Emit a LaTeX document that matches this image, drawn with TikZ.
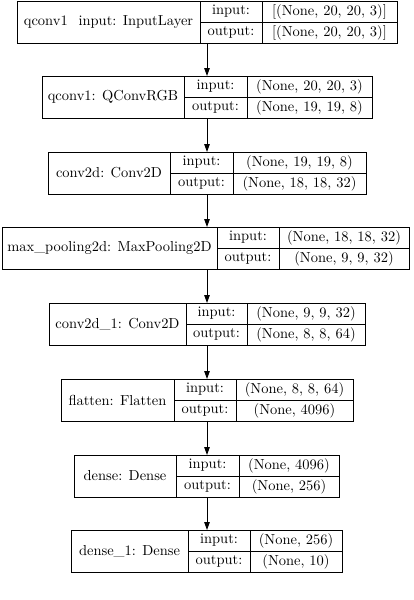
\documentclass[tikz,border=0pt]{standalone}
\usepackage{tikz}
\usetikzlibrary{arrows.meta,positioning}
\def\pxu{0.663pt}
\tikzstyle{arrow} = [line width=0.6pt,-{Triangle[length=5.2pt,width=3.6pt]}]
\tikzstyle{cell} = [draw, line width=0.6pt, inner sep=0pt, outer sep=0pt, anchor=north west,
  font=\fontsize{9.6}{11.5}\selectfont]
% one layer of the model: #1 name, #2 top, #3 left, #4 first divider, #5 second divider, #6 right,
% #7 label, #8 input shape, #9 output shape
\newcommand{\layer}[9]{%
\node[cell, minimum width={(#6-#3)*\pxu}, minimum height={42*\pxu}] (#1) at (#3,-#2) {};
\node[cell, minimum width={(#4-#3)*\pxu}, minimum height={42*\pxu}] (#1-name) at (#1.north west) {#7};
\node[cell, minimum width={(#5-#4)*\pxu}, minimum height={21*\pxu}] (#1-in) at (#1-name.north east) {input:};
\node[cell, minimum width={(#6-#5)*\pxu}, minimum height={21*\pxu}] (#1-inv) at (#1-in.north east) {#8};
\node[cell, minimum width={(#5-#4)*\pxu}, minimum height={21*\pxu}] (#1-out) at (#1-in.south west) {output:};
\node[cell, minimum width={(#6-#5)*\pxu}, minimum height={21*\pxu}] (#1-outv) at (#1-out.north east) {#9};
}

\begin{document}
\begin{tikzpicture}[x=\pxu, y=\pxu]
\useasboundingbox (0,0) rectangle (414,-600);

\layer{qin}{1}{17}{200}{262}{397}{qconv1\phantom{\_}input: InputLayer}{[(None, 20, 20, 3)]}{[(None, 20, 20, 3)]}
\layer{qconv}{76}{42}{184}{247}{372}{qconv1: QConvRGB}{(None, 20, 20, 3)}{(None, 19, 19, 8)}
\layer{conv}{152}{48}{170}{233}{366}{conv2d: Conv2D}{(None, 19, 19, 8)}{(None, 18, 18, 32)}
\layer{pool}{227}{2}{217}{279}{409}{max\_pooling2d: MaxPooling2D}{(None, 18, 18, 32)}{(None, 9, 9, 32)}
\layer{convb}{303}{49}{186}{247}{365}{conv2d\_1: Conv2D}{(None, 9, 9, 32)}{(None, 8, 8, 64)}
\layer{flat}{379}{61}{174}{236}{353}{flatten: Flatten}{(None, 8, 8, 64)}{(None, 4096)}
\layer{dense}{455}{74}{176}{239}{339}{dense: Dense}{(None, 4096)}{(None, 256)}
\layer{denseb}{530}{71}{188}{250}{342}{dense\_1: Dense}{(None, 256)}{(None, 10)}

% all edges run down one vertical line
\coordinate (spine) at (207,0);
\draw [arrow] (spine |- qin.south) -- (spine |- qconv.north);
\draw [arrow] (spine |- qconv.south) -- (spine |- conv.north);
\draw [arrow] (spine |- conv.south) -- (spine |- pool.north);
\draw [arrow] (spine |- pool.south) -- (spine |- convb.north);
\draw [arrow] (spine |- convb.south) -- (spine |- flat.north);
\draw [arrow] (spine |- flat.south) -- (spine |- dense.north);
\draw [arrow] (spine |- dense.south) -- (spine |- denseb.north);
\end{tikzpicture}
\end{document}
